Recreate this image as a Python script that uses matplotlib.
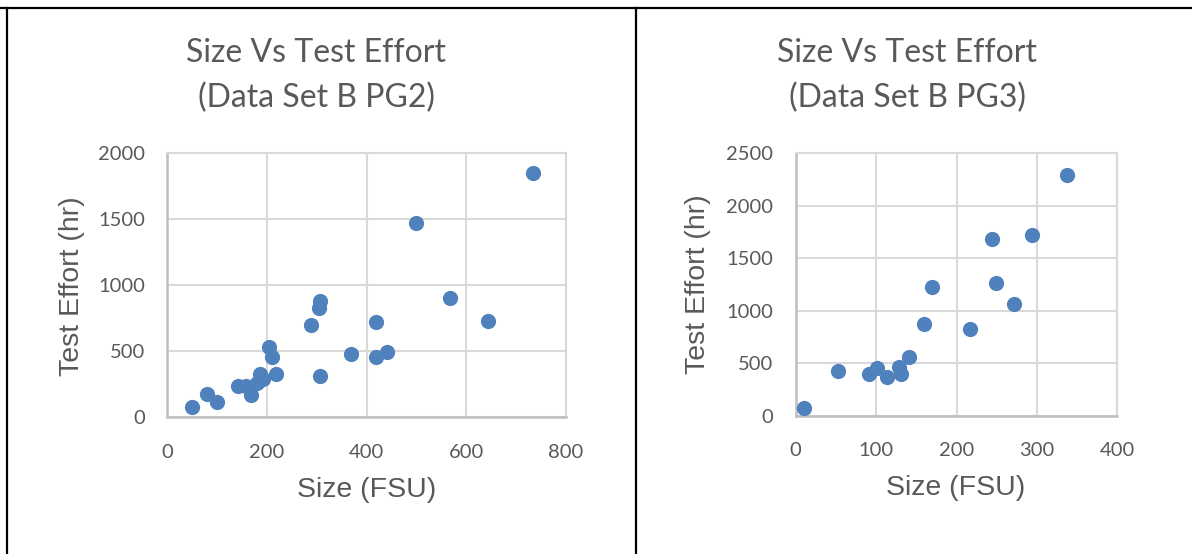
"""
Size vs test effort scatter plots, data sets B PG2 and PG3
"""
import numpy as np
import matplotlib.pyplot as plt
from matplotlib.lines import Line2D

# data set B PG2
pg2_size = [49, 80, 100, 141, 159, 169, 181, 186, 193, 205, 210, 218,
            288, 305, 306, 307, 368, 419, 420, 441, 499, 568, 644, 734]
pg2_effort = [76, 177, 118, 237, 237, 169, 262, 326, 288, 535, 459, 328,
              699, 826, 879, 315, 477, 720, 455, 492, 1474, 904, 732, 1853]

# data set B PG3
pg3_size = [10, 52, 91, 101, 113, 128, 131, 141, 160, 170, 217, 244,
            249, 271, 294, 338]
pg3_effort = [73, 431, 396, 453, 368, 469, 399, 564, 873, 1231, 825, 1687,
              1262, 1066, 1718, 2292]

pg2_xticks = [0, 200, 400, 600, 800]
pg2_yticks = [0, 500, 1000, 1500, 2000]
pg3_xticks = [0, 100, 200, 300, 400]
pg3_yticks = [0, 500, 1000, 1500, 2000, 2500]

TEXT = '#595959'
BLUE = '#4f81bd'
W, H = 1192, 554


def px(x, y):
    """pixel position -> figure fraction"""
    return x / W, 1 - y / H


def scatter_panel(ax, xs, ys, xticks, yticks):
    ax.scatter(xs, ys, s=120, color=BLUE, linewidths=0, zorder=3, clip_on=False)
    ax.set_xlim(xticks[0], xticks[-1])
    ax.set_ylim(yticks[0], yticks[-1])
    ax.set_xticks(xticks)
    ax.set_yticks(yticks)
    ax.grid(True, color='#d9d9d9', linewidth=1.5, zorder=0)
    ax.set_axisbelow(True)
    for side in ['top', 'right']:
        ax.spines[side].set_color('#d9d9d9')
        ax.spines[side].set_linewidth(1.5)
    for side in ['bottom', 'left']:
        ax.spines[side].set_color('#bfbfbf')
        ax.spines[side].set_linewidth(1.8)
    ax.tick_params(length=0, labelsize=14.5, labelcolor=TEXT)
    ax.tick_params(axis='y', pad=16)
    ax.tick_params(axis='x', pad=19)
    for lab in ax.get_xticklabels() + ax.get_yticklabels():
        lab.set_family('Lato')


fig = plt.figure(figsize=(W / 100, H / 100), dpi=100)

ax1 = fig.add_axes([167.3 / W, 1 - 417.3 / H, 398.4 / W, 264 / H])
scatter_panel(ax1, pg2_size, pg2_effort, pg2_xticks, pg2_yticks)

ax2 = fig.add_axes([795.7 / W, 1 - 416 / H, 321.6 / W, 262.7 / H])
scatter_panel(ax2, pg3_size, pg3_effort, pg3_xticks, pg3_yticks)

# titles
for cx, name in [(316, 'PG2'), (907, 'PG3')]:
    fig.text(*px(cx, 53), 'Size Vs Test Effort', ha='center', va='center',
             fontsize=23, color=TEXT, family='Lato')
    fig.text(*px(cx, 98), f'(Data Set B {name})', ha='center', va='center',
             fontsize=23, color=TEXT, family='Lato')

# axis labels
fig.text(*px(367, 490), 'Size (FSU)', ha='center', va='center',
         fontsize=20.5, color=TEXT, family='Liberation Sans')
fig.text(*px(956, 488), 'Size (FSU)', ha='center', va='center',
         fontsize=20.5, color=TEXT, family='Liberation Sans')
fig.text(*px(72, 286), 'Test Effort (hr)', ha='center', va='center',
         rotation=90, fontsize=20.5, color=TEXT, family='Liberation Sans')
fig.text(*px(698, 284), 'Test Effort (hr)', ha='center', va='center',
         rotation=90, fontsize=20.5, color=TEXT, family='Liberation Sans')

# table borders around the two charts
for xs, ys in [([0, W], [7.5, 7.5]), ([7.5, 7.5], [7.5, H]), ([636, 636], [7.5, H])]:
    fig.add_artist(Line2D([x / W for x in xs], [1 - y / H for y in ys],
                          color='black', linewidth=1.6))

fig.savefig('out.png', dpi=100)
